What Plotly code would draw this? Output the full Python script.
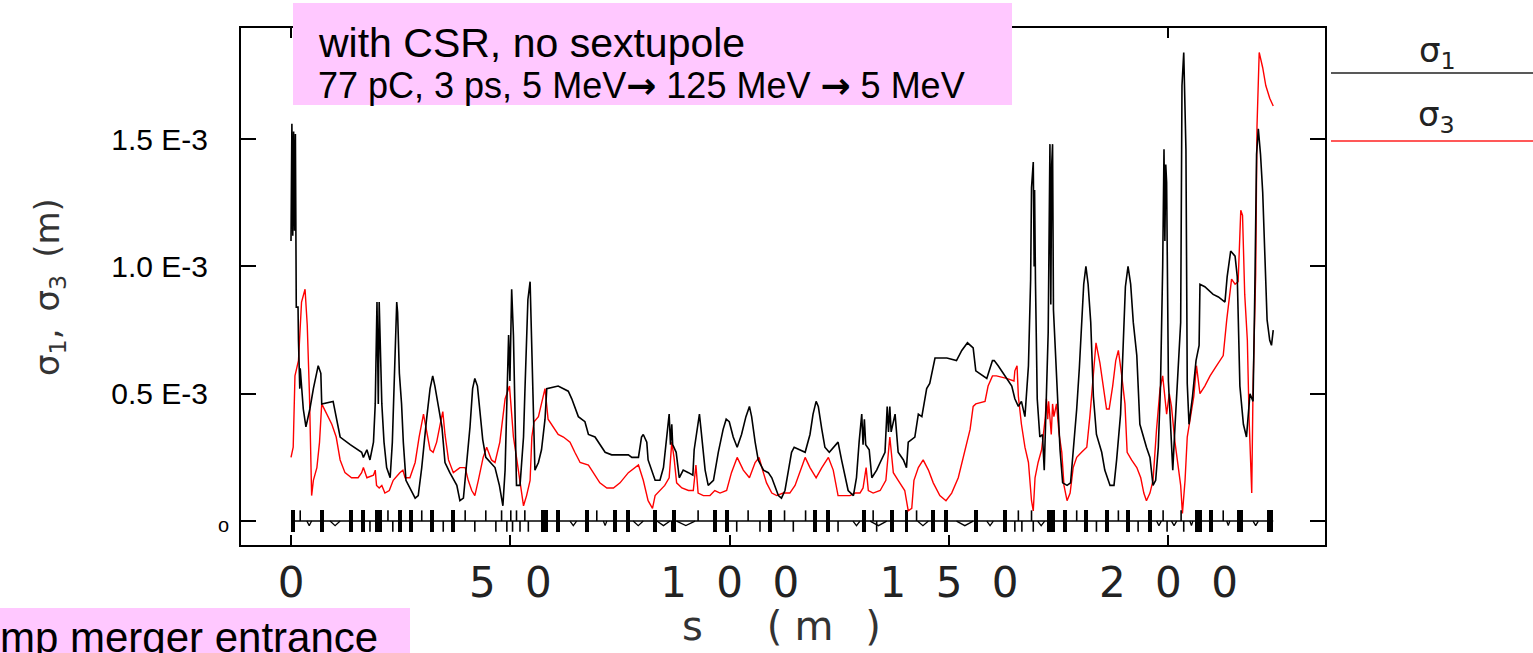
import plotly.graph_objects as go

# ---------------- data (sigma values in units of 1e-3 m) ----------------
S1_S = [0.0, 0.2, 0.4, 0.6, 0.8, 1.0, 1.2, 1.6, 1.7, 1.9, 2.0, 2.1, 2.8, 3.4, 4.3, 5.1, 6.2, 6.8, 7.0, 9.6,
        10.4, 11.2, 13.5, 16.1, 16.5, 17.3, 18.0, 18.8, 19.2, 19.6, 19.9, 20.1, 20.7, 21.2, 21.8, 22.6, 23.1,
        23.5, 24.1, 24.3, 24.7, 25.2, 25.6, 26.2, 27.1, 28.3, 29.0, 29.8, 30.9, 31.7, 32.3, 32.8, 33.6, 34.4,
        35.1, 36.2, 37.8, 38.5, 39.3, 40.1, 40.8, 41.4, 41.9, 42.5, 42.9, 43.7, 44.4, 45.4, 46.5, 47.5, 48.3,
        48.8, 49.3, 49.6, 49.9, 50.3, 50.7, 51.1, 51.4, 52.2, 53.0, 53.3, 54.0, 54.5, 54.9, 55.2, 55.6, 56.4,
        57.1, 57.9, 58.3, 60.9, 63.2, 64.0, 65.5, 67.0, 67.8, 69.3, 70.4, 71.6, 73.1, 75.0, 76.9, 77.7, 79.2,
        79.9, 80.3, 81.1, 81.4, 83.0, 84.1, 84.9, 85.6, 86.2, 86.5, 86.8, 87.0, 87.8, 88.5, 89.4, 90.6, 91.6,
        91.9, 92.5, 93.1, 93.4, 94.4, 95.1, 96.3, 97.4, 98.5, 99.2, 99.9, 100.8, 101.7, 102.7, 103.7, 104.5,
        105.0, 105.8, 106.5, 107.7, 108.8, 109.6, 110.3, 111.1, 111.8, 112.6, 113.4, 114.1, 114.7, 115.9,
        117.2, 118.3, 119.0, 119.7, 120.2, 121.0, 121.7, 122.7, 123.6, 124.7, 125.5, 126.3, 127.0, 128.2,
        128.9, 129.5, 130.1, 130.4, 130.7, 131.0, 131.8, 132.4, 133.5, 134.3, 135.4, 135.9, 136.2, 136.5,
        136.8, 137.7, 138.1, 138.4, 139.6, 140.3, 140.7, 142.2, 143.0, 143.8, 144.9, 145.6, 146.8, 149.5,
        151.7, 152.9, 154.2, 155.5, 156.1, 158.6, 159.9, 160.3, 161.2, 162.7, 164.3, 165.0, 165.8, 166.5,
        167.3, 168.1, 168.6, 168.8, 169.2, 169.4, 169.5, 169.7, 170.1, 170.7, 171.3, 171.7, 172.2, 172.6,
        173.0, 173.2, 173.4, 173.6, 173.8, 174.5, 175.3, 175.9, 176.9, 177.7, 178.3, 179.1, 179.7, 180.2,
        180.7, 181.2, 181.7, 182.3, 182.9, 183.6, 184.8, 185.5, 186.7, 187.6, 188.2, 189.1, 189.7, 190.2,
        190.8, 191.4, 192.0, 192.8, 193.5, 194.3, 195.0, 195.8, 196.5, 197.1, 197.7, 198.2, 198.7, 199.0,
        199.2, 199.4, 199.6, 200.0, 200.3, 201.0, 201.5, 202.2, 202.8, 203.1, 203.5, 204.0, 204.3, 204.7,
        205.5, 206.3, 207.0, 207.2, 208.3, 210.2, 211.4, 212.9, 213.4, 214.2, 215.2, 215.7, 216.3, 217.1,
        217.8, 218.6, 219.3, 219.7, 220.1, 220.5, 221.0, 221.5, 222.0, 222.5, 223.1, 223.5, 223.9]
S1_V = [1.10, 1.56, 1.12, 1.53, 1.14, 1.52, 0.84, 0.84, 0.71, 0.62, 0.52, 0.60, 0.44, 0.37, 0.44, 0.52, 0.61,
        0.58, 0.46, 0.47, 0.40, 0.33, 0.30, 0.27, 0.25, 0.28, 0.24, 0.31, 0.46, 0.86, 0.46, 0.86, 0.46, 0.31,
        0.21, 0.17, 0.31, 0.57, 0.86, 0.82, 0.58, 0.46, 0.31, 0.16, 0.13, 0.09, 0.10, 0.21, 0.40, 0.52, 0.57,
        0.53, 0.45, 0.37, 0.23, 0.19, 0.14, 0.08, 0.09, 0.23, 0.37, 0.52, 0.56, 0.53, 0.45, 0.32, 0.25, 0.23,
        0.21, 0.14, 0.06, 0.20, 0.55, 0.73, 0.55, 0.91, 0.73, 0.33, 0.14, 0.14, 0.33, 0.50, 0.87, 0.94, 0.63,
        0.40, 0.20, 0.23, 0.28, 0.40, 0.52, 0.53, 0.51, 0.48, 0.41, 0.39, 0.34, 0.33, 0.30, 0.27, 0.26, 0.26,
        0.26, 0.25, 0.25, 0.33, 0.34, 0.31, 0.24, 0.16, 0.16, 0.21, 0.34, 0.42, 0.30, 0.38, 0.30, 0.27, 0.17,
        0.20, 0.19, 0.18, 0.28, 0.36, 0.42, 0.37, 0.20, 0.14, 0.16, 0.27, 0.36, 0.40, 0.39, 0.33, 0.29, 0.34,
        0.41, 0.45, 0.41, 0.31, 0.24, 0.20, 0.19, 0.17, 0.14, 0.10, 0.09, 0.12, 0.20, 0.27, 0.29, 0.28, 0.27,
        0.34, 0.42, 0.47, 0.45, 0.36, 0.29, 0.27, 0.29, 0.31, 0.24, 0.17, 0.12, 0.10, 0.17, 0.31, 0.42, 0.30,
        0.40, 0.30, 0.28, 0.17, 0.20, 0.23, 0.27, 0.45, 0.35, 0.45, 0.35, 0.42, 0.33, 0.27, 0.24, 0.21, 0.31,
        0.33, 0.42, 0.41, 0.52, 0.54, 0.64, 0.64, 0.63, 0.67, 0.70, 0.68, 0.59, 0.56, 0.63, 0.63, 0.61, 0.57,
        0.53, 0.48, 0.45, 0.47, 0.41, 0.61, 0.95, 1.31, 1.41, 1.00, 1.30, 0.94, 0.48, 0.33, 0.34, 0.20, 0.46,
        0.74, 1.48, 0.85, 1.40, 1.48, 0.83, 0.57, 0.28, 0.15, 0.14, 0.15, 0.27, 0.44, 0.60, 0.77, 0.93, 1.00,
        0.93, 0.78, 0.49, 0.34, 0.27, 0.20, 0.14, 0.14, 0.24, 0.42, 0.74, 0.92, 1.00, 0.93, 0.78, 0.65, 0.38,
        0.33, 0.29, 0.25, 0.14, 0.16, 0.29, 0.53, 1.00, 1.46, 1.10, 1.40, 1.33, 0.55, 0.46, 0.20, 0.37, 0.59,
        0.78, 1.71, 1.84, 1.46, 0.54, 0.38, 0.49, 0.63, 0.69, 0.93, 0.92, 0.89, 0.88, 0.86, 0.96, 1.06, 1.04,
        0.96, 0.53, 0.38, 0.33, 0.50, 0.47, 0.90, 1.44, 1.54, 1.44, 1.29, 1.03, 0.79, 0.71, 0.69, 0.75]

S3_S = [0.0, 0.5, 0.9, 1.7, 2.4, 3.2, 3.7, 4.2, 4.7, 5.1, 5.9, 6.5, 7.0, 8.1, 9.3, 10.3, 11.2, 12.3, 13.8,
        15.3, 16.1, 16.5, 17.3, 18.8, 19.2, 19.5, 20.1, 20.7, 21.4, 22.4, 23.3, 24.8, 25.5, 26.0, 27.1, 28.3,
        29.2, 30.2, 30.9, 31.7, 32.4, 33.2, 34.0, 34.6, 35.1, 35.9, 37.0, 38.5, 39.7, 40.4, 41.2, 41.9, 42.7,
        43.8, 44.6, 45.7, 46.5, 47.6, 48.8, 49.8, 50.3, 50.7, 51.4, 52.2, 53.0, 53.7, 54.5, 54.9, 55.4, 56.4,
        57.4, 57.9, 58.6, 59.8, 60.9, 62.1, 63.6, 64.7, 65.9, 67.8, 68.9, 70.4, 72.0, 73.5, 75.0, 76.9, 79.2,
        80.3, 81.4, 82.4, 83.0, 84.1, 85.2, 86.2, 86.8, 87.3, 87.9, 89.1, 90.6, 91.7, 92.3, 92.8, 94.0, 95.5,
        96.6, 97.8, 99.3, 100.4, 101.7, 103.1, 104.5, 105.8, 106.7, 107.5, 108.4, 109.6, 110.7, 112.2, 113.7,
        114.9, 116.0, 117.2, 118.3, 119.7, 121.0, 122.5, 123.6, 124.7, 125.9, 127.4, 128.6, 129.7, 130.4,
        131.1, 131.6, 132.7, 134.3, 135.6, 136.5, 137.3, 138.4, 139.9, 140.7, 141.5, 142.0, 143.0, 144.1,
        145.3, 146.4, 147.9, 149.3, 150.6, 152.1, 153.6, 154.8, 155.5, 156.1, 158.2, 158.9, 159.9, 160.8,
        163.1, 164.8, 165.0, 165.5, 165.8, 166.5, 167.3, 168.1, 168.8, 169.2, 169.6, 170.3, 171.1, 171.9,
        172.2, 172.5, 172.7, 173.0, 173.3, 173.6, 173.9, 174.5, 175.1, 175.7, 176.2, 176.9, 177.6, 178.3,
        179.1, 180.2, 181.4, 182.1, 182.9, 183.5, 184.4, 185.1, 185.9, 186.5, 187.3, 188.0, 188.6, 189.3,
        190.1, 190.6, 191.6, 192.8, 193.7, 194.4, 195.0, 195.8, 196.5, 197.3, 198.1, 198.7, 199.2, 199.6,
        200.2, 200.7, 201.5, 202.2, 202.8, 203.2, 203.8, 204.3, 204.9, 205.8, 206.4, 207.2, 208.3, 209.5,
        211.0, 212.5, 213.3, 213.9, 214.4, 215.2, 215.9, 216.5, 216.9, 217.4, 218.0, 218.4, 219.0, 219.3,
        219.9, 220.2, 220.7, 221.5, 222.2, 223.1, 223.9]
S3_V = [0.25, 0.29, 0.57, 0.63, 0.86, 0.91, 0.77, 0.50, 0.10, 0.16, 0.21, 0.31, 0.46, 0.42, 0.38, 0.33, 0.24,
        0.19, 0.17, 0.17, 0.19, 0.21, 0.17, 0.18, 0.20, 0.14, 0.13, 0.14, 0.11, 0.12, 0.16, 0.19, 0.20, 0.17,
        0.17, 0.23, 0.33, 0.42, 0.36, 0.28, 0.27, 0.31, 0.38, 0.43, 0.34, 0.24, 0.19, 0.21, 0.21, 0.16, 0.12,
        0.10, 0.16, 0.25, 0.29, 0.24, 0.23, 0.31, 0.48, 0.53, 0.42, 0.33, 0.25, 0.15, 0.06, 0.10, 0.16, 0.33,
        0.39, 0.41, 0.48, 0.52, 0.40, 0.37, 0.34, 0.33, 0.31, 0.27, 0.23, 0.22, 0.19, 0.15, 0.13, 0.13, 0.15,
        0.19, 0.22, 0.16, 0.08, 0.05, 0.10, 0.12, 0.14, 0.17, 0.31, 0.25, 0.15, 0.13, 0.12, 0.12, 0.22, 0.11,
        0.10, 0.10, 0.12, 0.11, 0.12, 0.19, 0.25, 0.20, 0.17, 0.23, 0.25, 0.20, 0.15, 0.11, 0.10, 0.11, 0.11,
        0.14, 0.19, 0.25, 0.21, 0.17, 0.21, 0.25, 0.20, 0.10, 0.10, 0.10, 0.11, 0.11, 0.13, 0.21, 0.12, 0.11,
        0.12, 0.16, 0.33, 0.19, 0.16, 0.12, 0.04, 0.05, 0.16, 0.21, 0.24, 0.20, 0.15, 0.10, 0.08, 0.11, 0.17,
        0.28, 0.36, 0.45, 0.46, 0.47, 0.53, 0.57, 0.57, 0.56, 0.55, 0.59, 0.61, 0.49, 0.38, 0.29, 0.23, 0.08,
        0.04, 0.17, 0.23, 0.28, 0.40, 0.48, 0.40, 0.47, 0.40, 0.34, 0.46, 0.41, 0.46, 0.34, 0.27, 0.14, 0.08,
        0.11, 0.21, 0.25, 0.27, 0.29, 0.41, 0.57, 0.70, 0.62, 0.53, 0.44, 0.44, 0.53, 0.63, 0.67, 0.58, 0.46,
        0.27, 0.24, 0.21, 0.17, 0.11, 0.08, 0.11, 0.16, 0.36, 0.52, 0.57, 0.50, 0.42, 0.50, 0.45, 0.31, 0.21,
        0.14, 0.03, 0.16, 0.33, 0.40, 0.49, 0.61, 0.50, 0.53, 0.57, 0.61, 0.65, 0.79, 0.89, 0.95, 0.93, 0.94,
        1.22, 1.20, 0.89, 0.71, 0.40, 0.11, 0.53, 0.97, 1.55, 1.84, 1.78, 1.71, 1.66, 1.63]

# lattice (magnet) strip along the beam line, positions in m
LATTICE_START = 0.0
LATTICE_END = 223.9
QUAD_S = [0.5, 7.0, 13.6, 16.4, 19.5, 20.4, 24.8, 27.4, 32.1, 36.9, 57.4, 58.1, 60.9, 67.4, 73.8, 76.8,
          82.9, 87.3, 96.6, 99.3, 109.2, 119.4, 122.4, 130.6, 136.9, 140.3, 146.4, 149.4, 156.2, 162.8,
          172.8, 173.8, 176.5, 181.3, 185.9, 190.8, 195.8, 206.6, 207.1, 209.8, 216.0, 216.5, 223.0, 223.5]
THIN_S = [2.1, 18.0, 22.1, 23.2, 29.8, 34.7, 39.7, 41.9, 44.4, 46.7, 48.0, 49.2, 50.1, 50.5, 51.4, 52.2,
          53.3, 54.1, 69.7, 86.8, 92.8, 101.6, 104.2, 106.9, 112.5, 114.5, 117.3, 124.7, 132.7, 133.5,
          142.6, 165.0, 165.8, 166.6, 168.8, 169.2, 179.1, 183.6, 188.6, 193.1, 198.8, 199.7, 202.9,
          203.5, 212.5]
BEND_START = [3.6, 8.9, 63.6, 71.2, 78.0, 83.4, 87.9, 128.1, 132.0, 142.8, 151.7, 158.6, 170.2, 197.3,
              200.7, 204.9, 213.3, 219.3]
BEND_END = [4.7, 11.2, 65.1, 72.0, 80.3, 86.4, 92.1, 129.7, 135.8, 145.3, 155.5, 160.1, 171.8, 198.4,
            201.9, 205.6, 214.0, 220.5]

X_TICKS = [0, 50, 100, 150, 200]
Y_TICKS = [0.0, 0.5, 1.0, 1.5]
Y_TICK_TEXT = ["<span style='font-size:20px'>o</span>", "0.5 E-3", "1.0 E-3", "1.5 E-3"]

SCALE = 1e-3
HERSHEY = "DejaVu Sans ExtraLight, DejaVu Sans, sans-serif"
ARIAL = "Arial, Liberation Sans, sans-serif"
PINK = "#ffc8ff"
ARROW = "<span style='font-family:DejaVu Sans;font-weight:bold'>\u2192</span>"

def spaced(label):
    return "\u2002\u2009".join(list(label))

fig = go.Figure()

fig.add_trace(go.Scatter(x=S3_S, y=[v * SCALE for v in S3_V], mode="lines",
                         line=dict(color="#ff0000", width=1.4), name="sigma3", hoverinfo="skip"))
fig.add_trace(go.Scatter(x=S1_S, y=[v * SCALE for v in S1_V], mode="lines",
                         line=dict(color="#000000", width=1.6), name="sigma1", hoverinfo="skip"))

# lattice baseline
fig.add_trace(go.Scatter(x=[LATTICE_START, LATTICE_END], y=[0, 0], mode="lines",
                         line=dict(color="black", width=1.5), hoverinfo="skip"))
# thin element markers (alternating up / down)
tx, ty = [], []
for i, s in enumerate(THIN_S):
    h = 0.042 * SCALE if i % 2 == 0 else -0.042 * SCALE
    tx += [s, s, None]
    ty += [0, h, None]
fig.add_trace(go.Scatter(x=tx, y=ty, mode="lines", line=dict(color="black", width=1.6), hoverinfo="skip"))
# bends as small dips
bx, by = [], []
for a, b in zip(BEND_START, BEND_END):
    bx += [a, (a + b) / 2, b, None]
    by += [0, -0.018 * SCALE, 0, None]
fig.add_trace(go.Scatter(x=bx, y=by, mode="lines", line=dict(color="black", width=1.3), hoverinfo="skip"))
# quadrupoles as thick bars
fig.add_trace(go.Bar(x=QUAD_S, y=[0.088 * SCALE] * len(QUAD_S), base=-0.043 * SCALE, width=0.9,
                     marker=dict(color="black", line=dict(width=0)), hoverinfo="skip"))

L, R, T, B = 241, 208, 28, 108
W, H = 1533, 653
PW, PH = W - L - R, H - T - B

def px(xp):
    return (xp - L) / PW

def py(yp):
    return (H - B - yp) / PH

fig.update_layout(
    width=W, height=H, margin=dict(l=L, r=R, t=T, b=B),
    paper_bgcolor="white", plot_bgcolor="white", showlegend=False, bargap=0,
    xaxis=dict(range=[-11.4, 235.7], tickvals=X_TICKS, ticktext=[spaced(str(v)) for v in X_TICKS],
               ticks="inside", ticklen=10, tickwidth=2, tickcolor="black",
               showline=True, linewidth=2, linecolor="black", mirror="ticks",
               showgrid=False, zeroline=False,
               tickfont=dict(family=HERSHEY, size=42, color="#222")),
    yaxis=dict(range=[-0.094 * SCALE, 1.936 * SCALE], tickvals=[v * SCALE for v in Y_TICKS],
               ticktext=[Y_TICK_TEXT[0]] + [t + "\u2002\u2009" for t in Y_TICK_TEXT[1:]],
               ticks="inside", ticklen=15, tickwidth=2, tickcolor="black",
               showline=True, linewidth=2, linecolor="black", mirror="ticks",
               showgrid=False, zeroline=False,
               tickfont=dict(family=ARIAL, size=30, color="black"), ticklabelstandoff=4),
)

shapes = [
    # pink title box
    dict(type="rect", xref="paper", yref="paper", x0=px(293), x1=px(1012), y0=py(105), y1=py(3),
         fillcolor=PINK, line=dict(width=0), layer="above"),
    # pink bottom-left box
    dict(type="rect", xref="paper", yref="paper", x0=px(0), x1=px(410), y0=py(660), y1=py(608),
         fillcolor=PINK, line=dict(width=0), layer="above"),
    # legend lines
    dict(type="line", xref="paper", yref="paper", x0=px(1331), x1=px(1533), y0=py(73), y1=py(73),
         line=dict(color="#222", width=1.5)),
    dict(type="line", xref="paper", yref="paper", x0=px(1331), x1=px(1533), y0=py(141), y1=py(141),
         line=dict(color="#ff2020", width=1.5)),
]

annotations = [
    dict(text="with CSR, no sextupole", xref="paper", yref="paper", x=px(316), y=py(43),
         xanchor="left", yanchor="middle", showarrow=False, font=dict(family=ARIAL, size=41, color="black")),
    dict(text="77 pC, 3 ps, 5 MeV" + ARROW + " 125 MeV " + ARROW + " 5 MeV", xref="paper", yref="paper",
         x=px(316), y=py(86), xanchor="left", yanchor="middle", showarrow=False,
         font=dict(family=ARIAL, size=36, color="black")),
    dict(text="mp merger entrance", xref="paper", yref="paper", x=px(-2), y=py(637),
         xanchor="left", yanchor="middle", showarrow=False, font=dict(family=ARIAL, size=42, color="black")),
    dict(text="\u03c3<sub>1</sub>", xref="paper", yref="paper", x=px(1437), y=py(52),
         xanchor="center", yanchor="middle", showarrow=False, font=dict(family=HERSHEY, size=34, color="#222")),
    dict(text="\u03c3<sub>3</sub>", xref="paper", yref="paper", x=px(1436), y=py(117),
         xanchor="center", yanchor="middle", showarrow=False, font=dict(family=HERSHEY, size=34, color="#222")),
    dict(text="\u03c3<sub>1</sub>,\u2002\u03c3<sub>3</sub>\u2002(m)", xref="paper", yref="paper",
         x=px(49), y=py(287), textangle=-90, xanchor="center", yanchor="middle", showarrow=False,
         font=dict(family=HERSHEY, size=34, color="#333")),
    dict(text="s\u2003\u2002\u200a(\u2009\u200am\u2002\u2009\u200a)", xref="paper", yref="paper",
         x=px(781), y=py(626), xanchor="center", yanchor="middle", showarrow=False,
         font=dict(family=HERSHEY, size=40, color="#333")),
]

fig.update_layout(shapes=shapes, annotations=annotations)
fig.write_html("out.html")
